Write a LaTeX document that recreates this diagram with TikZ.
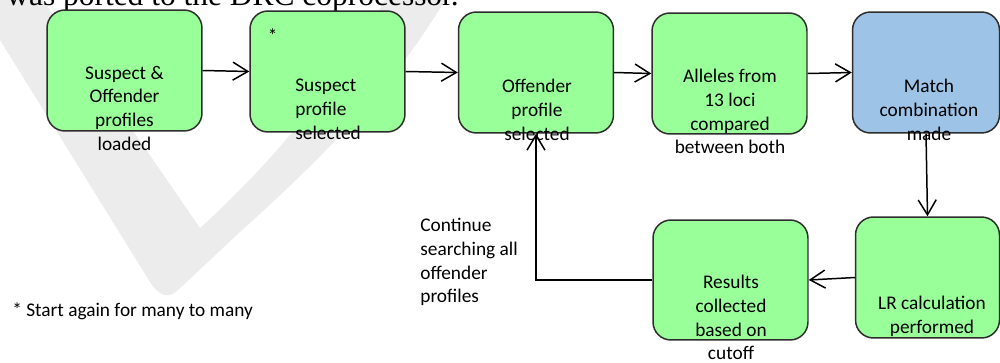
\documentclass[tikz,border=0pt]{standalone}
\usepackage{fontspec}
\setmainfont{Carlito}
\newfontfamily\timesfont{Liberation Serif}
\usetikzlibrary{arrows.meta}
\definecolor{boxgreen}{RGB}{153,255,153}
\definecolor{boxblue}{RGB}{157,195,230}
\definecolor{edgegray}{RGB}{45,45,45}
\definecolor{markgray}{RGB}{236,236,236}
\tikzset{
  stepbox/.style={draw=edgegray,line width=0.85pt,rounded corners=0.36cm,fill=boxgreen,
    minimum width=3.1cm,minimum height=2.42cm,inner sep=0pt},
  steptext/.style={align=center,inner sep=0pt,font=\fontsize{11}{13.5}\selectfont},
  flow/.style={->,>={Straight Barb[length=0.3cm,width=0.36cm]},line width=0.85pt},
}
\begin{document}
\begin{tikzpicture}[x=0.02cm,y=-0.02cm]
\useasboundingbox (0,0) rectangle (1000,362);
\clip (0,0) rectangle (1000,362);
\fill[markgray] (0,40) -- (150,282) .. controls (158,295) and (168,300) .. (178,290) -- (240,232)
  .. controls (320,160) and (395,85) .. (445,0) -- (385,0) .. controls (340,80) and (275,160) .. (200,228)
  -- (43,0) -- (0,0) -- cycle;
\node[anchor=base west,inner sep=0pt,font=\timesfont\fontsize{17.9}{22}\selectfont] (head) at (6,5) {was ported to the DRC coprocessor.};
\node[stepbox] (load) at (124.5,70.5) {};
\node[stepbox] (suspect) at (327.5,71.5) {};
\node[stepbox] (offender) at (536,72.5) {};
\node[stepbox] (alleles) at (729.5,73.5) {};
\node[stepbox,fill=boxblue,minimum width=2.94cm] (match) at (926,72.5) {};
\node[stepbox,minimum width=2.88cm] (lrcalc) at (927.5,277.5) {};
\node[stepbox,minimum height=2.4cm] (results) at (730.5,280) {};
\draw[flow] (load.east) -- (suspect.west);
\draw[flow] (suspect.east) -- (offender.west);
\draw[flow] (offender.east) -- (alleles.west);
\draw[flow] (alleles.east) -- (match.west);
\draw[flow] (match.south) -- (lrcalc.north);
\draw[flow] (lrcalc.west) -- (results.east);
\draw[flow] (results.west) -| (offender.south);
\node[steptext] (loadtxt) at (124.5,108.25) {Suspect \&\\Offender\\profiles\\loaded};
\node[steptext] (star) at (272.7,35.9) {*};
\node[steptext,align=left,anchor=west] (suspecttxt) at (295,109.25) {Suspect\\profile\\selected};
\node[steptext] (offendertxt) at (537,109.75) {Offender\\profile\\selected};
\node[steptext] (allelestxt) at (730,111.75) {Alleles from\\13 loci\\compared\\between both};
\node[steptext] (matchtxt) at (929,109.75) {Match\\combination\\made};
\node[steptext] (lrcalctxt) at (932,316.25) {LR calculation\\performed};
\node[steptext] (resultstxt) at (731,317.5) {Results\\collected\\based on\\cutoff};
\node[steptext,align=left,anchor=west] (continuetxt) at (420,262.25) {Continue\\searching all\\offender\\profiles};
\node[steptext,anchor=west] (note) at (12,311.75) {* Start again for many to many};
\end{tikzpicture}
\end{document}
